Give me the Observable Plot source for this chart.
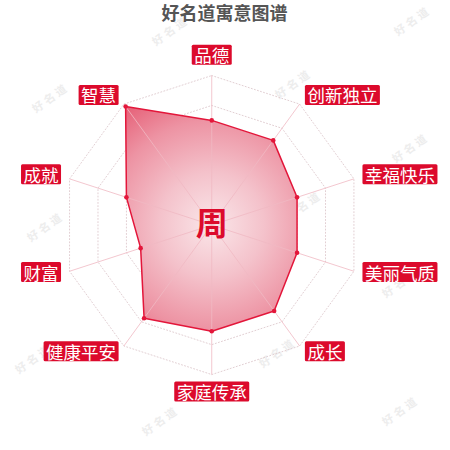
<!DOCTYPE html>
<html><head><meta charset="utf-8">
<script src="https://cdn.jsdelivr.net/npm/d3@7"></script>
<script src="https://cdn.jsdelivr.net/npm/@observablehq/plot@0.6"></script>
<style>
html,body{margin:0;padding:0;background:#fff;}
#wrap{position:relative;width:450px;height:450px;overflow:hidden;font-family:"Noto Sans CJK SC",sans-serif;}
#wrap svg{position:absolute;left:0;top:0;}
.wm{position:absolute;transform:translate(-50%,-50%) rotate(-35deg);color:#ededed;font-size:11px;font-family:"Noto Sans CJK SC",sans-serif;font-weight:bold;white-space:nowrap;letter-spacing:3px;}
</style></head><body><div id="wrap"></div>
<script>
const title = "好名道寓意图谱";
const centerChar = "周";
const categories = ["品德","创新独立","幸福快乐","美丽气质","成长","家庭传承","健康平安","财富","成就","智慧"];
const values = [70,70,60,60,71,71,77,50,60,98];
const maxValue = 100;
const gridLevels = [20,40,60,80,100];
const watermark = "好名道";
const watermarkSpots = [[170,30],[412,20],[50,97],[293,83],[410,147],[45,226],[303,205],[400,282],[33,358],[277,352],[160,420],[400,410]];

const n = categories.length;
const axes = categories.map((name, i) => {
  const a = i * 2 * Math.PI / n;
  return {name, value: values[i], sin: Math.sin(a), cos: Math.cos(a)};
});
const rings = gridLevels.flatMap(l => axes.map(a => ({l, x: l * a.sin, y: l * a.cos})));
const labelR = maxValue + 6;
const side = d => d.sin > 0.01 ? "right" : d.sin < -0.01 ? "left" : d.cos > 0 ? "top" : "bottom";

const gradientMark = (index, scales) => {
  const cx = scales.x(0), cy = scales.y(0), r = scales.x(maxValue) - cx;
  const defs = d3.create("svg:defs");
  const g = defs.append("radialGradient").attr("id", "radarFill")
    .attr("gradientUnits", "userSpaceOnUse").attr("cx", cx).attr("cy", cy).attr("r", r);
  [[0, "#fae6e9"], [0.35, "#f4c2cb"], [0.7, "#ed93a3"], [1, "#e55b73"]].forEach(([o, c]) =>
    g.append("stop").attr("offset", o).attr("stop-color", c));
  return defs.node();
};

const labelFont = {fill: "white", fontSize: 17.5, fontFamily: "Noto Sans CJK SC", className: "axis-label"};

const plot = Plot.plot({
  width: 450, height: 450,
  margin: 0,
  x: {domain: [-141.3, 159.7], axis: null},
  y: {domain: [-150.8, 150.2], axis: null},
  style: {background: "transparent", overflow: "visible"},
  marks: [
    gradientMark,
    Plot.line(rings, {x: "x", y: "y", z: "l", curve: "linear-closed", stroke: "#e2cfd3", strokeWidth: 1, strokeDasharray: "1,2.2"}),
    Plot.line(axes, {x: d => d.value * d.sin, y: d => d.value * d.cos, curve: "linear-closed", fill: "url(#radarFill)", stroke: "none"}),
    Plot.link(axes, {x1: () => 0, y1: () => 0, x2: d => maxValue * d.sin, y2: d => maxValue * d.cos, stroke: "#f0b9c3", strokeWidth: 1, strokeOpacity: 0.8}),
    Plot.line(axes, {x: d => d.value * d.sin, y: d => d.value * d.cos, curve: "linear-closed", stroke: "#e3163a", strokeWidth: 1.5}),
    Plot.dot(axes, {x: d => d.value * d.sin, y: d => d.value * d.cos, r: 2.3, fill: "#e3163a"}),
    Plot.text(axes, {filter: d => side(d) === "right", x: d => labelR * d.sin, y: d => labelR * d.cos, text: "name", textAnchor: "start", lineAnchor: "middle", dx: 2.5, ...labelFont}),
    Plot.text(axes, {filter: d => side(d) === "left", x: d => labelR * d.sin, y: d => labelR * d.cos, text: "name", textAnchor: "end", lineAnchor: "middle", dx: -2.5, ...labelFont}),
    Plot.text(axes, {filter: d => side(d) === "top", x: d => labelR * d.sin, y: d => labelR * d.cos, text: "name", textAnchor: "middle", lineAnchor: "middle", dy: -10, ...labelFont}),
    Plot.text(axes, {filter: d => side(d) === "bottom", x: d => labelR * d.sin, y: d => labelR * d.cos, text: "name", textAnchor: "middle", lineAnchor: "middle", dy: 10, ...labelFont}),
    Plot.text([centerChar], {x: () => 0, y: () => 0, text: d => d, fill: "#dc0a2c", fontSize: 32, fontWeight: "bold", fontFamily: "Noto Sans CJK SC", lineAnchor: "middle"}),
    Plot.text([title], {frameAnchor: "top", text: d => d, dx: -1, dy: 14, lineAnchor: "middle", fill: "#555", fontSize: 18, fontWeight: "bold", fontFamily: "Noto Sans CJK SC"})
  ]
});

const wrap = document.getElementById("wrap");
watermarkSpots.forEach(([x, y]) => {
  const s = document.createElement("span");
  s.className = "wm"; s.textContent = watermark;
  s.style.left = x + "px"; s.style.top = y + "px";
  wrap.appendChild(s);
});
wrap.appendChild(plot);

// red boxes behind the axis labels
plot.querySelectorAll("g.axis-label").forEach(g => {
  const texts = Array.from(g.querySelectorAll("text"));
  texts.forEach(t => {
    const bb = t.getBBox();
    const cy = bb.y + bb.height / 2;
    const r = document.createElementNS("http://www.w3.org/2000/svg", "rect");
    r.setAttribute("x", bb.x - 2.5);
    r.setAttribute("y", cy - 10);
    r.setAttribute("width", bb.width + 5);
    r.setAttribute("height", 20);
    r.setAttribute("rx", 1.5);
    r.setAttribute("fill", "#dc0a2c");
    const tr = t.getAttribute("transform");
    if (tr) r.setAttribute("transform", tr);
    g.insertBefore(r, texts[0]);
  });
});
</script></body></html>
